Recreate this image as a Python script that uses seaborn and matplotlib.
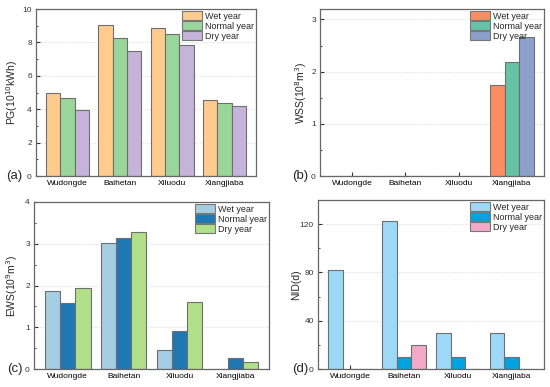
import matplotlib
matplotlib.use("Agg")
import matplotlib.pyplot as plt
import seaborn as sns
import pandas as pd
from matplotlib.ticker import MultipleLocator, AutoMinorLocator
from matplotlib.patches import Patch

sns.set_theme(style="white")
plt.rcParams['font.family'] = ['Liberation Sans', 'DejaVu Sans']

stations = ["Wudongde", "Baihetan", "Xiluodu", "Xiangjiaba"]
years = ["Wet year", "Normal year", "Dry year"]

pg_wet = [4.95, 9.05, 8.88, 4.57]
pg_normal = [4.65, 8.27, 8.48, 4.37]
pg_dry = [3.98, 7.50, 7.82, 4.17]

wss_wet = [0, 0, 0, 1.75]
wss_normal = [0, 0, 0, 2.19]
wss_dry = [0, 0, 0, 2.67]

ews_wet = [1.87, 3.01, 0.45, 0.0]
ews_normal = [1.59, 3.14, 0.90, 0.26]
ews_dry = [1.94, 3.27, 1.61, 0.17]

nid_wet = [82, 123, 30, 30]
nid_normal = [0, 10, 10, 10]
nid_dry = [0, 20, 0, 0]

colors_a = ["#FFCC8E", "#9AD69A", "#C6B3D9"]
colors_b = ["#FC8D62", "#66C2A5", "#8DA0CB"]
colors_c = ["#A6CEE3", "#1F78B4", "#B2DF8A"]
colors_d = ["#9DD9F7", "#00A3E0", "#F2A9C9"]


def long(w, n, d):
    rows = []
    for vals, y in zip([w, n, d], years):
        for s, v in zip(stations, vals):
            rows.append({"Station": s, "Year": y, "Value": v})
    return pd.DataFrame(rows)


fig = plt.figure(figsize=(5.5, 3.87), dpi=100)
W, H = 550, 387


def add_ax(l, r, t, b):
    return fig.add_axes([l / W, 1 - b / H, (r - l) / W, (b - t) / H]), (r - l)


panels = [
    (add_ax(36, 256, 9, 176), long(pg_wet, pg_normal, pg_dry), colors_a,
     "PG(10$^{10}$kWh)", (0, 10), 2, "(a)", 16, 14),
    (add_ax(320, 544, 9, 176), long(wss_wet, wss_normal, wss_dry), colors_b,
     "WSS(10$^{8}$m$^{3}$)", (0, 3.2), 1, "(b)", 11, 12),
    (add_ax(34, 269, 202, 369), long(ews_wet, ews_normal, ews_dry), colors_c,
     "EWS(10$^{9}$m$^{3}$)", (0, 4), 1, "(c)", 14, 11),
    (add_ax(318, 544, 200, 369), long(nid_wet, nid_normal, nid_dry), colors_d,
     "NID(d)", (0, 140), 40, "(d)", 17, 10),
]

for (ax, wpx), df, cols, ylab, ylim, major, tag, ylab_off, tag_off in panels:
    sns.barplot(data=df, x="Station", y="Value", hue="Year", palette=cols,
                width=0.82, edgecolor="#6e6e6e", linewidth=0.8, saturation=1,
                ax=ax, legend=False)
    ax.set_ylim(*ylim)
    ax.set_xlim(-0.6, 3.6)
    ax.yaxis.set_major_locator(MultipleLocator(major))
    ax.yaxis.set_minor_locator(AutoMinorLocator(2))
    ax.grid(axis="y", which="major", linestyle=(0, (1, 1.5)), color="#dddddd",
            linewidth=0.8)
    ax.set_axisbelow(True)
    ax.tick_params(axis="both", which="major", direction="in", length=3,
                   width=0.8, labelsize=6, colors="#333333", bottom=True,
                   left=True, pad=3)
    ax.tick_params(axis="y", which="minor", direction="in", length=1.6,
                   width=0.6, left=True)
    ax.tick_params(axis="x", labelcolor="black")
    for sp in ax.spines.values():
        sp.set_visible(True)
        sp.set_color("#666666")
        sp.set_linewidth(0.9)
    ax.set_xlabel("")
    ax.set_ylabel(ylab, fontsize=7.5)
    ax.yaxis.set_label_coords(-ylab_off / wpx, 0.5)
    handles = [Patch(facecolor=c, edgecolor="#777777", linewidth=0.8) for c in cols]
    ax.legend(handles, years, loc="upper right", frameon=False, fontsize=6.5,
              labelspacing=0.05, handlelength=2.2, handleheight=1.15,
              handletextpad=0.3, borderaxespad=0.15, borderpad=0.1)
    ax.text(-tag_off / wpx, 0.0, tag, transform=ax.transAxes, fontsize=9.5,
            ha="right", va="center")

fig.savefig("out.png", dpi=100)
